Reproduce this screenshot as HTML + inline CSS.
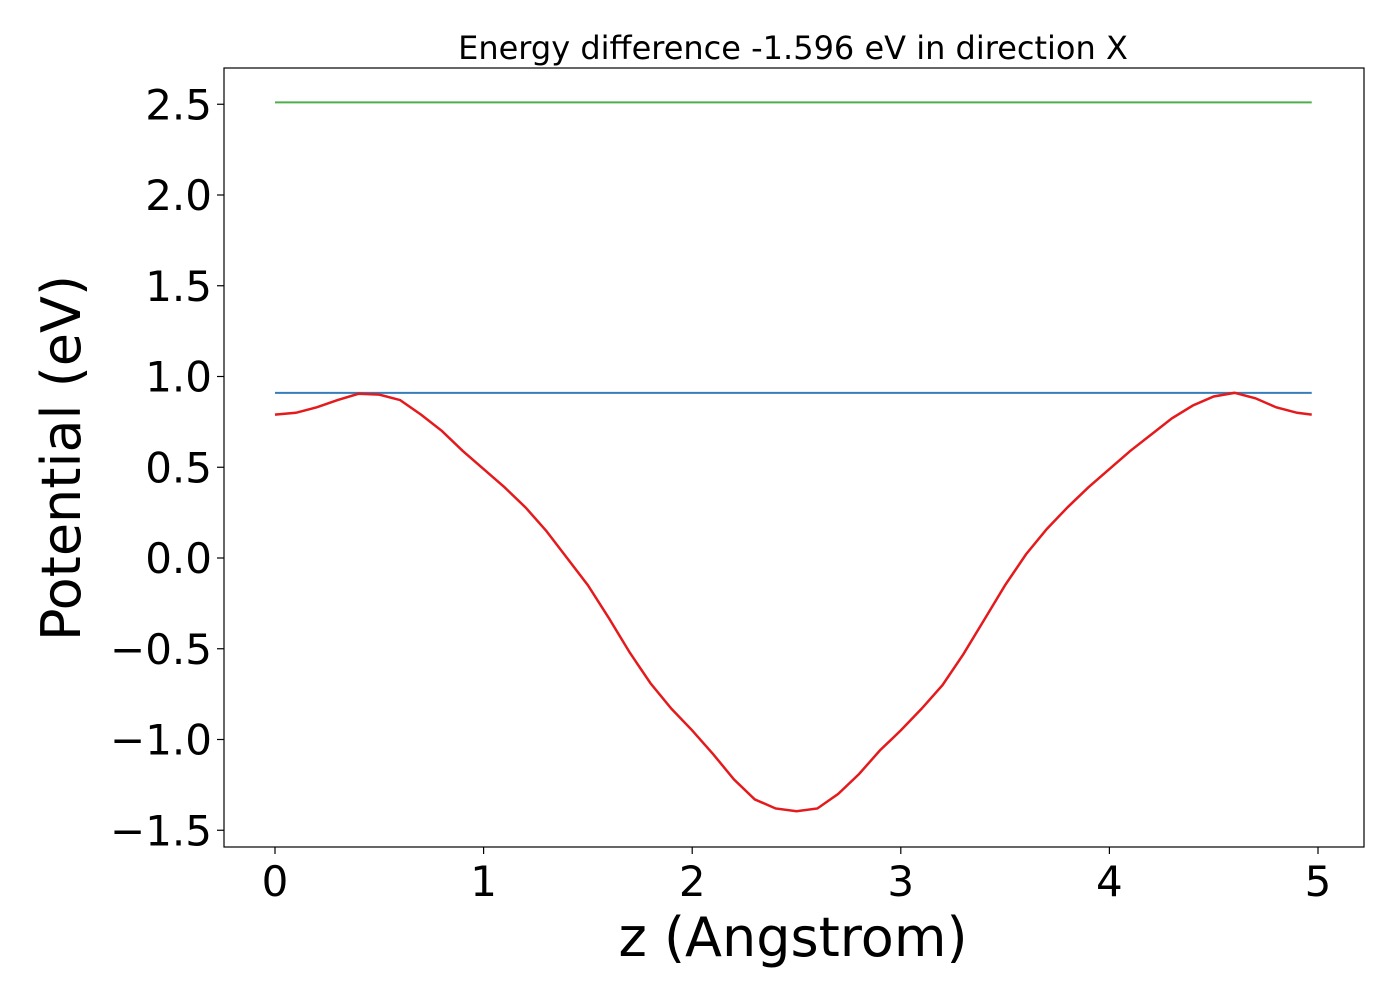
<!DOCTYPE html>
<html><head><meta charset="utf-8"><style>
html,body{margin:0;padding:0;background:#fff;}
svg{display:block;font-family:"DejaVu Sans","Liberation Sans",sans-serif;}
</style></head><body>
<svg id="chart" width="1400" height="1000">
<rect x="0" y="0" width="1400" height="1000" fill="#fff"/>
<g id="marks"></g>
<rect x="224" y="68" width="1140" height="779" fill="none" stroke="#000" stroke-width="1.2"/>
<g id="xticks"></g><g id="yticks"></g>
<text x="793" y="59" font-size="32" text-anchor="middle">Energy difference -1.596 eV in direction X</text>
<text x="793" y="956" font-size="54" text-anchor="middle">z (Angstrom)</text>
<text transform="translate(80,458) rotate(-90)" font-size="54" text-anchor="middle">Potential (eV)</text>
</svg>
<script>
const zValues=[0,0.1,0.2,0.3,0.4,0.5,0.6,0.7,0.8,0.9,1.0,1.1,1.2,1.3,1.4,1.5,1.6,1.7,1.8,1.9,2.0,2.1,2.2,2.3,2.4,2.5,2.6,2.7,2.8,2.9,3.0,3.1,3.2,3.3,3.4,3.5,3.6,3.7,3.8,3.9,4.0,4.1,4.2,4.3,4.4,4.5,4.6,4.7,4.8,4.9,4.97];
const potential=[0.79,0.80,0.83,0.87,0.905,0.90,0.87,0.79,0.70,0.59,0.49,0.39,0.28,0.15,0.0,-0.15,-0.33,-0.52,-0.69,-0.83,-0.95,-1.08,-1.22,-1.33,-1.38,-1.395,-1.38,-1.30,-1.19,-1.06,-0.95,-0.83,-0.70,-0.53,-0.34,-0.15,0.02,0.16,0.28,0.39,0.49,0.59,0.68,0.77,0.84,0.89,0.91,0.88,0.83,0.80,0.79];
const maxLevel=0.91;
const upperLevel=2.51;
const xTickLabels=["0","1","2","3","4","5"];
const yTickValues=[-1.5,-1.0,-0.5,0.0,0.5,1.0,1.5,2.0,2.5];
const NS="http://www.w3.org/2000/svg";
const xs=v=>275+(v-0)*(1318-275)/5;
const ys=v=>558-v*181.5;
const marks=document.getElementById('marks');
function line(x1,y1,x2,y2,c,w,parent){const l=document.createElementNS(NS,'line');l.setAttribute('x1',x1);l.setAttribute('y1',y1);l.setAttribute('x2',x2);l.setAttribute('y2',y2);l.setAttribute('stroke',c);l.setAttribute('stroke-width',w);parent.appendChild(l);return l;}
const zMin=zValues[0],zMax=zValues[zValues.length-1];
const g1=line(xs(zMin),ys(upperLevel),xs(zMax),ys(upperLevel),'#4daf4a',2,marks);


const b1=line(xs(zMin),ys(maxLevel),xs(zMax),ys(maxLevel),'#377eb8',2,marks);


const p=document.createElementNS(NS,'polyline');
p.setAttribute('points',zValues.map((z,i)=>xs(z)+','+ys(potential[i])).join(' '));
p.setAttribute('fill','none');p.setAttribute('stroke','#e41a1c');p.setAttribute('stroke-width','2.5');


marks.appendChild(p);
const xt=document.getElementById('xticks');
xTickLabels.forEach(s=>{const v=parseFloat(s);const x=xs(v);line(x,847,x,854,'#000',1.2,xt);
const t=document.createElementNS(NS,'text');t.setAttribute('x',x);t.setAttribute('y',896);t.setAttribute('font-size','42');t.setAttribute('text-anchor','middle');t.textContent=s;


xt.appendChild(t);});
const yt=document.getElementById('yticks');
yTickValues.forEach(v=>{const y=ys(v);line(217,y,224,y,'#000',1.2,yt);
const t=document.createElementNS(NS,'text');t.setAttribute('x',212);t.setAttribute('y',y+15);t.setAttribute('font-size','42');t.setAttribute('text-anchor','end');t.textContent=(v<0?'\u2212':'')+Math.abs(v).toFixed(1);


yt.appendChild(t);});
</script>
</body></html>
